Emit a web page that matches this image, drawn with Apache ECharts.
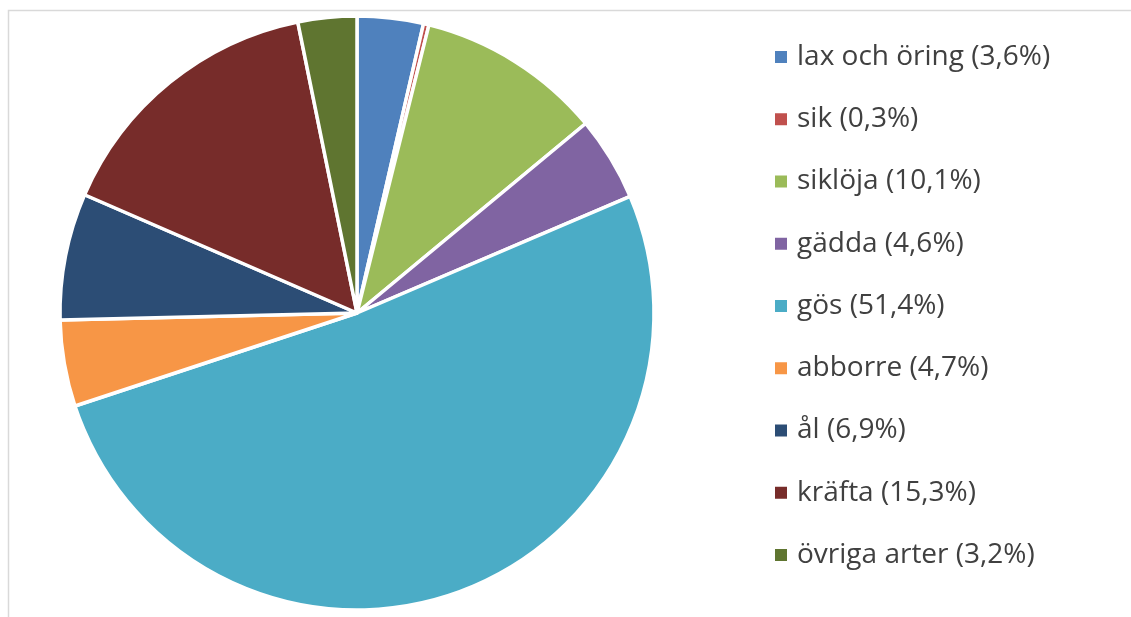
<!DOCTYPE html>
<html>
<head>
<meta charset="utf-8">
<script src="https://cdn.jsdelivr.net/npm/echarts@6/dist/echarts.min.js"></script>
<style>
  html, body { margin: 0; padding: 0; background: #ffffff; }
  #chart { width: 1131px; height: 617px; }
</style>
</head>
<body>
<div id="chart"></div>
<script>
const names = ["lax och öring", "sik", "siklöja", "gädda", "gös", "abborre", "ål", "kräfta", "övriga arter"];
const shares = [3.6, 0.3, 10.1, 4.6, 51.4, 4.7, 6.9, 15.3, 3.2];
const colors = ["#4F81BD", "#C0504D", "#9BBB59", "#8064A2", "#4BACC6", "#F79646", "#2C4D75", "#772C2A", "#5F7530"];

const pieData = names.map((n, i) => ({
  name: n + " (" + shares[i].toFixed(1).replace(".", ",") + "%)",
  value: shares[i],
  itemStyle: { color: colors[i] }
}));

const myChart = echarts.init(document.getElementById("chart"));
const option = {
  animation: false,
  graphic: [
    {
      type: "rect",
      shape: { x: 8.5, y: 10.5, width: 1200, height: 700 },
      style: { fill: "none", stroke: "#d9d9d9", lineWidth: 1.5 },
      silent: true
    }
  ],
  legend: {
    orient: "vertical",
    left: 768,
    top: 37,
    itemWidth: 14,
    itemHeight: 14,
    itemGap: 32.25,
    icon: "rect",
    textStyle: {
      fontFamily: "Open Sans",
      fontSize: 28,
      lineHeight: 30,
      color: "#404040",
      padding: [0, 0, 0, 4]
    },
    data: pieData.map(d => d.name)
  },
  series: [
    {
      type: "pie",
      center: [357, 313],
      radius: 297,
      startAngle: 90,
      clockwise: true,
      label: { show: false },
      labelLine: { show: false },
      itemStyle: { borderColor: "#ffffff", borderWidth: 3.5 },
      emphasis: { disabled: true },
      data: pieData
    }
  ]
};
myChart.setOption(option);
</script>
</body>
</html>
